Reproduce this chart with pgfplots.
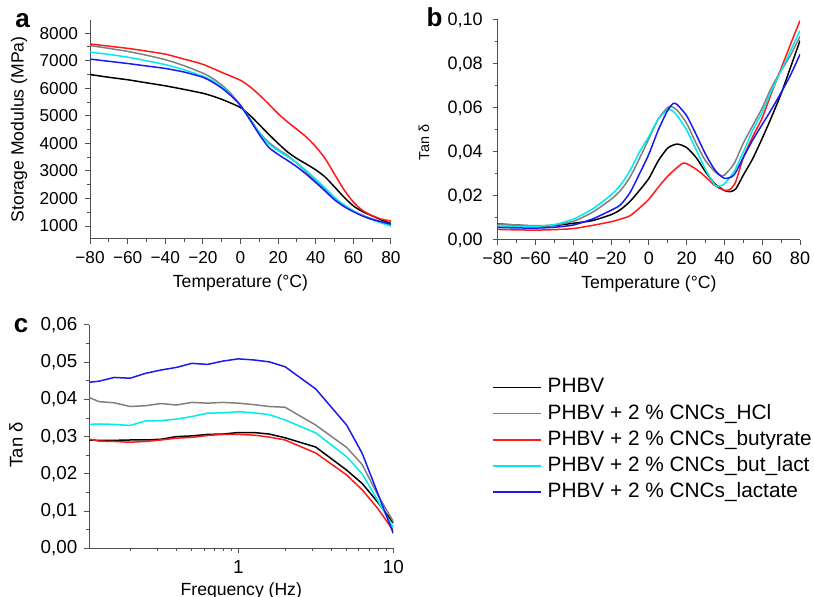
\documentclass[border=0pt]{standalone}
\usepackage{fontspec}
\setmainfont{Liberation Sans}
\usepackage{pgfplots}
\pgfplotsset{compat=1.18}

\definecolor{axisgray}{RGB}{80,80,80}
\definecolor{cgray}{RGB}{128,128,128}
\definecolor{cred}{RGB}{255,25,25}
\definecolor{ccyan}{RGB}{0,235,235}
\definecolor{cblue}{RGB}{25,25,240}

\newcommand{\labfont}{\fontsize{8.8}{10}\selectfont}

\pgfplotsset{
  panel/.style={
    scale only axis,
    anchor=south west,
    axis lines=left,
    axis line style={-, axisgray, line width=0.5pt},
    tick style={axisgray, line width=0.5pt},
    tick align=outside,
    major tick length=2.5pt,
    minor tick length=1.5pt,
    scaled ticks=false,
    every axis plot/.append style={line width=0.75pt},
  },
  tempx/.style={
    xmin=-80, xmax=80,
    xtick={-80,-60,-40,-20,0,20,40,60,80},
    xticklabels={−80,−60,−40,−20,0,20,40,60,80},
    minor x tick num=1,
    xlabel={Temperature (°C)},
  },
}

\begin{document}
\begin{tikzpicture}
\useasboundingbox (0,0) rectangle (407pt,298.5pt);

% (a) storage modulus
\begin{axis}[panel, tempx,
  at={(45pt,179pt)}, width=150.5pt, height=109.5pt,
  ymin=530, ymax=8480,
  ytick={1000,2000,3000,4000,5000,6000,7000,8000},
  yticklabels={1000,2000,3000,4000,5000,6000,7000,8000},
  minor y tick num=1,
  tick label style={font=\fontsize{8.6}{10}\selectfont},
  ylabel={Storage Modulus (MPa)},
  every axis y label/.style={at={(axis description cs:-0.236,0.5)}, rotate=90, anchor=center, font=\labfont},
  every axis x label/.style={at={(axis description cs:0.5,-0.2)}, anchor=center, font=\labfont},
]
\addplot[black, smooth, tension=0.4] coordinates {
(-80,6500) (-70,6400) (-60,6310) (-50,6200) (-40,6090) (-30,5960) (-20,5820) (-15,5720) (-10,5600) (-5,5460) (0,5300) (5,5020) (10,4680) (15,4330) (20,4000) (25,3690) (30,3450) (35,3250) (40,3040) (45,2780) (50,2420) (55,2050) (60,1730) (65,1520) (70,1370) (75,1220) (80,1090)};
\addplot[cgray, smooth, tension=0.4] coordinates {
(-80,7550) (-70,7450) (-60,7340) (-50,7200) (-40,7040) (-30,6820) (-20,6550) (-15,6370) (-10,6120) (-5,5800) (0,5380) (5,4900) (10,4400) (15,4040) (20,3780) (25,3560) (30,3280) (35,2960) (40,2640) (45,2330) (50,2010) (55,1760) (60,1550) (65,1390) (70,1260) (75,1150) (80,1050)};
\addplot[cred, smooth, tension=0.4] coordinates {
(-80,7610) (-70,7530) (-60,7450) (-50,7350) (-40,7240) (-30,7060) (-20,6870) (-10,6580) (0,6290) (5,6060) (10,5760) (15,5430) (20,5080) (25,4780) (30,4510) (35,4230) (40,3880) (45,3450) (50,2880) (55,2320) (60,1870) (65,1560) (70,1380) (75,1250) (80,1180)};
\addplot[ccyan, smooth, tension=0.4] coordinates {
(-80,7310) (-70,7230) (-60,7130) (-50,7000) (-40,6860) (-30,6670) (-20,6440) (-15,6280) (-10,6050) (-5,5760) (0,5380) (5,4880) (10,4380) (15,3990) (20,3740) (25,3520) (30,3290) (35,3010) (40,2700) (45,2380) (50,2040) (55,1770) (60,1550) (65,1370) (70,1230) (75,1110) (80,1000)};
\addplot[cblue, smooth, tension=0.4] coordinates {
(-80,7060) (-70,6980) (-60,6900) (-50,6810) (-40,6720) (-30,6590) (-20,6400) (-15,6230) (-10,6010) (-5,5730) (0,5380) (5,4860) (10,4320) (15,3860) (20,3600) (25,3380) (30,3150) (35,2880) (40,2580) (45,2270) (50,1950) (55,1710) (60,1520) (65,1360) (70,1240) (75,1150) (80,1070)};
\end{axis}

% (b) tan delta vs temperature
\begin{axis}[panel, tempx,
  at={(248.85pt,178.5pt)}, width=151.15pt, height=110pt,
  ymin=0, ymax=0.1,
  ytick={0,0.02,0.04,0.06,0.08,0.1},
  yticklabels={{0,00},{0,02},{0,04},{0,06},{0,08},{0,10}},
  minor y tick num=1,
  tick label style={font=\fontsize{9}{10}\selectfont},
  yticklabel style={xshift=-1.5pt},
  ylabel={Tan δ},
  every axis y label/.style={at={(axis description cs:-0.244,0.443)}, rotate=90, anchor=center, font=\fontsize{7.2}{9}\selectfont},
  every axis x label/.style={at={(axis description cs:0.5,-0.2)}, anchor=center, font=\labfont},
]
\addplot[black, smooth, tension=0.4] coordinates {
(-80,0.0073) (-70,0.0068) (-60,0.0063) (-50,0.0066) (-40,0.0076) (-30,0.0088) (-20,0.0115) (-15,0.0138) (-10,0.0175) (-5,0.0225) (0,0.0280) (5,0.0360) (10,0.0418) (15,0.0436) (20,0.0420) (25,0.0375) (30,0.0310) (35,0.0255) (40,0.0225) (43,0.0220) (46,0.0232) (50,0.0295) (55,0.0370) (60,0.0462) (65,0.0560) (70,0.0665) (75,0.0785) (80,0.0906)};
\addplot[cgray, smooth, tension=0.4] coordinates {
(-80,0.0072) (-70,0.0068) (-60,0.0065) (-50,0.0068) (-40,0.0085) (-30,0.0125) (-20,0.0185) (-15,0.0225) (-10,0.0285) (-5,0.0370) (0,0.0460) (5,0.0550) (10,0.0603) (12,0.0606) (15,0.0590) (20,0.0530) (25,0.0440) (30,0.0360) (35,0.0310) (38,0.0292) (40,0.0295) (45,0.0345) (50,0.0440) (55,0.0520) (60,0.0600) (65,0.0695) (70,0.0770) (75,0.0840) (80,0.0925)};
\addplot[cred, smooth, tension=0.4] coordinates {
(-80,0.0048) (-70,0.0046) (-60,0.0045) (-50,0.0047) (-40,0.0052) (-30,0.0066) (-20,0.0083) (-15,0.0095) (-10,0.0110) (-5,0.0145) (0,0.0185) (5,0.0240) (10,0.0290) (15,0.0330) (18,0.0349) (20,0.0347) (25,0.0322) (30,0.0287) (35,0.0247) (40,0.0226) (43,0.0230) (46,0.0265) (50,0.0375) (55,0.0470) (60,0.0555) (65,0.0670) (70,0.0780) (75,0.0890) (80,0.0997)};
\addplot[ccyan, smooth, tension=0.4] coordinates {
(-80,0.0063) (-70,0.0062) (-60,0.0062) (-50,0.0070) (-40,0.0095) (-30,0.0140) (-20,0.0205) (-15,0.0250) (-10,0.0315) (-5,0.0400) (0,0.0470) (5,0.0550) (10,0.0591) (12,0.0590) (15,0.0565) (20,0.0500) (25,0.0410) (30,0.0320) (35,0.0250) (37,0.0245) (40,0.0255) (45,0.0310) (50,0.0400) (55,0.0500) (60,0.0580) (65,0.0680) (70,0.0770) (75,0.0860) (80,0.0951)};
\addplot[cblue, smooth, tension=0.4] coordinates {
(-80,0.0057) (-70,0.0055) (-60,0.0054) (-50,0.0058) (-40,0.0068) (-30,0.0095) (-20,0.0135) (-15,0.0160) (-10,0.0215) (-5,0.0300) (0,0.0390) (5,0.0500) (10,0.0590) (13,0.0621) (15,0.0615) (20,0.0565) (25,0.0480) (30,0.0390) (35,0.0318) (40,0.0280) (45,0.0295) (50,0.0375) (55,0.0455) (60,0.0525) (65,0.0595) (70,0.0670) (75,0.0750) (80,0.0844)};
\end{axis}

% (c) tan delta vs frequency
\begin{axis}[panel,
  at={(44.65pt,24.35pt)}, width=152pt, height=111.65pt,
  xmode=log, xmin=0.109, xmax=10,
  xtick={1,10}, xticklabels={1,10},
  minor xtick={0.2,0.3,0.4,0.5,0.6,0.7,0.8,0.9,2,3,4,5,6,7,8,9},
  ymin=0, ymax=0.06,
  ytick={0,0.01,0.02,0.03,0.04,0.05,0.06},
  yticklabels={{0,00},{0,01},{0,02},{0,03},{0,04},{0,05},{0,06}},
  minor y tick num=1,
  tick label style={font=\fontsize{9.4}{10}\selectfont},
  xlabel={Frequency (Hz)},
  ylabel={Tan δ},
  every axis y label/.style={at={(axis description cs:-0.241,0.463)}, rotate=90, anchor=center, font=\fontsize{9.2}{10}\selectfont},
  every axis x label/.style={at={(axis description cs:0.5,-0.19)}, anchor=center, font=\labfont},
  legend style={at={(axis description cs:1.324,0.765)}, anchor=north west,
    draw=none, fill=none, inner sep=0pt, row sep=3.6pt,
    font=\fontsize{10.4}{12}\selectfont,
    nodes={inner sep=0pt, text height=7.5pt, text depth=2pt}},
  legend cell align=left,
  legend image code/.code={\draw[#1] (0pt,0pt) -- (24pt,0pt); \path (27pt,0pt);},
]
\addplot[black] coordinates {
(0.109,0.0291) (0.126,0.0290) (0.158,0.0290) (0.2,0.0291) (0.251,0.0291) (0.316,0.0293) (0.398,0.0300) (0.501,0.0302) (0.631,0.0306) (0.794,0.0307) (1,0.0311) (1.26,0.0311) (1.58,0.0307) (2,0.0297) (3.16,0.0272) (5,0.0210) (6.3,0.0174) (7.9,0.0125) (10,0.0068)};
\addlegendentry{PHBV}
\addplot[cgray] coordinates {
(0.109,0.0405) (0.126,0.0394) (0.158,0.0391) (0.2,0.0381) (0.251,0.0383) (0.316,0.0389) (0.398,0.0385) (0.501,0.0392) (0.631,0.0390) (0.794,0.0392) (1,0.0390) (1.26,0.0386) (1.58,0.0381) (2,0.0379) (3.16,0.0331) (5,0.0271) (6.3,0.0225) (7.9,0.0145) (10,0.0072)};
\addlegendentry{PHBV + 2 \% CNCs\_HCl}
\addplot[cred] coordinates {
(0.109,0.0293) (0.126,0.0288) (0.158,0.0287) (0.2,0.0285) (0.251,0.0287) (0.316,0.0291) (0.398,0.0296) (0.501,0.0298) (0.631,0.0303) (0.794,0.0306) (1,0.0306) (1.26,0.0304) (1.58,0.0299) (2,0.0291) (3.16,0.0256) (5,0.0197) (6.3,0.0157) (7.9,0.0108) (10,0.0048)};
\addlegendentry{PHBV + 2 \% CNCs\_butyrate}
\addplot[ccyan] coordinates {
(0.109,0.0333) (0.126,0.0334) (0.158,0.0333) (0.2,0.0330) (0.251,0.0342) (0.316,0.0343) (0.398,0.0347) (0.501,0.0354) (0.631,0.0363) (0.794,0.0364) (1,0.0367) (1.26,0.0364) (1.58,0.0359) (2,0.0345) (3.16,0.0310) (5,0.0246) (6.3,0.0200) (7.9,0.0130) (10,0.0055)};
\addlegendentry{PHBV + 2 \% CNCs\_but\_lact}
\addplot[cblue] coordinates {
(0.109,0.0446) (0.126,0.0449) (0.158,0.0459) (0.2,0.0457) (0.251,0.0470) (0.316,0.0479) (0.398,0.0486) (0.501,0.0497) (0.631,0.0494) (0.794,0.0503) (1,0.0509) (1.26,0.0506) (1.58,0.0501) (2,0.0488) (3.16,0.0428) (5,0.0331) (6.3,0.0255) (7.9,0.0150) (10,0.0040)};
\addlegendentry{PHBV + 2 \% CNCs\_lactate}
\end{axis}

\node[font=\fontsize{13}{13}\selectfont\bfseries] at (11.25pt,288pt) {a};
\node[font=\fontsize{13}{13}\selectfont\bfseries] at (217.25pt,290pt) {b};
\node[font=\fontsize{13}{13}\selectfont\bfseries] at (10.5pt,135.75pt) {c};
\end{tikzpicture}
\end{document}
